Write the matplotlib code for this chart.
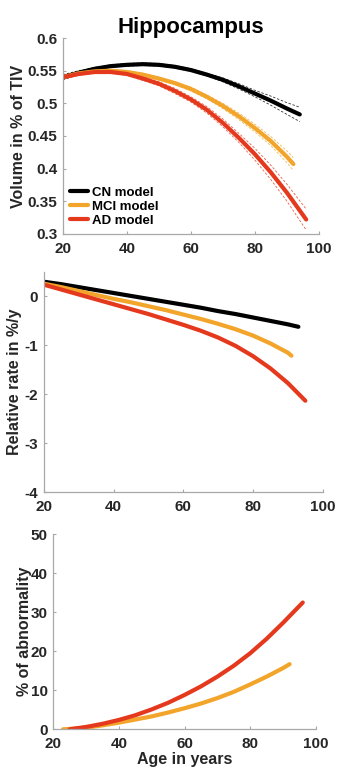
import matplotlib
matplotlib.use("Agg")
import matplotlib.pyplot as plt
import numpy as np

plt.rcParams['font.family'] = ['Liberation Sans', 'DejaVu Sans']
plt.rcParams['font.weight'] = 'bold'

# --- volume models (panel 1) ---
age_cn = [20, 25, 30, 35, 40, 45, 50, 55, 60, 65, 70, 75, 80, 85, 90, 94]
vol_cn = [0.540, 0.547, 0.553, 0.557, 0.559, 0.560, 0.559, 0.556, 0.551, 0.544, 0.536, 0.526, 0.515, 0.504, 0.492, 0.483]
ci_cn = [0.004, 0.003, 0.002, 0.002, 0.002, 0.002, 0.002, 0.002, 0.002, 0.002, 0.003, 0.004, 0.005, 0.007, 0.009, 0.011]

age_mci = [20, 25, 30, 35, 40, 45, 50, 55, 60, 65, 70, 75, 80, 85, 90, 92]
vol_mci = [0.540, 0.546, 0.549, 0.550, 0.548, 0.544, 0.538, 0.531, 0.522, 0.510, 0.496, 0.480, 0.462, 0.442, 0.418, 0.407]
ci_mci = [0.003, 0.002, 0.002, 0.002, 0.002, 0.002, 0.002, 0.002, 0.003, 0.003, 0.004, 0.005, 0.006, 0.007, 0.009, 0.010]

age_ad = [20, 25, 30, 35, 40, 45, 50, 55, 60, 65, 70, 75, 80, 85, 90, 96]
vol_ad = [0.540, 0.545, 0.548, 0.548, 0.545, 0.538, 0.530, 0.519, 0.506, 0.490, 0.470, 0.447, 0.422, 0.394, 0.363, 0.322]
ci_ad = [0.003, 0.002, 0.002, 0.002, 0.002, 0.003, 0.003, 0.004, 0.004, 0.005, 0.006, 0.007, 0.009, 0.011, 0.013, 0.016]

# --- relative rate (panel 2) ---
age_rate_cn = [20, 25, 30, 35, 40, 45, 50, 55, 60, 65, 70, 75, 80, 85, 90, 93]
rate_cn = [0.30, 0.25, 0.19, 0.13, 0.07, 0.01, -0.05, -0.11, -0.17, -0.23, -0.30, -0.36, -0.43, -0.50, -0.57, -0.62]
age_rate_mci = [20, 25, 30, 35, 40, 45, 50, 55, 60, 65, 70, 75, 80, 85, 90, 91]
rate_mci = [0.26, 0.19, 0.11, 0.03, -0.05, -0.12, -0.20, -0.28, -0.37, -0.46, -0.56, -0.67, -0.80, -0.96, -1.15, -1.21]
age_rate_ad = [20, 25, 30, 35, 40, 45, 50, 55, 60, 65, 70, 75, 80, 85, 90, 95]
rate_ad = [0.24, 0.14, 0.04, -0.06, -0.16, -0.26, -0.36, -0.47, -0.58, -0.70, -0.84, -1.01, -1.22, -1.47, -1.77, -2.13]

# --- abnormality (panel 3) ---
age_ab_mci = [23, 25, 30, 35, 40, 45, 50, 55, 60, 65, 70, 75, 80, 85, 90, 92]
ab_mci = [0.0, 0.1, 0.4, 1.0, 1.7, 2.5, 3.3, 4.3, 5.4, 6.6, 8.0, 9.6, 11.5, 13.5, 15.7, 16.7]
age_ab_ad = [25, 30, 35, 40, 45, 50, 55, 60, 65, 70, 75, 80, 85, 90, 96]
ab_ad = [0.0, 0.6, 1.4, 2.4, 3.6, 5.1, 6.8, 8.8, 11.0, 13.5, 16.3, 19.5, 23.2, 27.3, 32.5]

BLACK = '#000000'
ORANGE = '#f2a52a'
RED = '#e4391d'
AXC = '#a8a8a8'
TXT = '#262626'
FS_TICK = 11
FS_LAB = 11.5

fig = plt.figure(figsize=(3.43, 7.77), dpi=100)
ax1 = fig.add_axes([0.183, 0.699, 0.747, 0.252])
ax2 = fig.add_axes([0.128, 0.3664, 0.813, 0.2836])
ax3 = fig.add_axes([0.155, 0.0614, 0.766, 0.251])


def style(ax):
    for s in ['top', 'right']:
        ax.spines[s].set_visible(False)
    for s in ['left', 'bottom']:
        ax.spines[s].set_color(AXC)
        ax.spines[s].set_linewidth(0.9)
    ax.tick_params(direction='in', length=2.5, width=0.8, color=AXC,
                   labelsize=FS_TICK, labelcolor=TXT)
    ax.tick_params(axis='y', pad=4)
    ax.tick_params(axis='x', pad=5.5)
    for lab in ax.get_xticklabels() + ax.get_yticklabels():
        lab.set_fontweight('bold')
    ax.set_xlim(20, 100)
    ax.set_xticks([20, 40, 60, 80, 100])


lw = 3.0
for age, vol, ci, col in [(age_cn, vol_cn, ci_cn, BLACK),
                          (age_mci, vol_mci, ci_mci, ORANGE),
                          (age_ad, vol_ad, ci_ad, RED)]:
    v = np.array(vol)
    c = np.array(ci)
    ax1.plot(age, v + c, color=col, lw=0.6, ls=(0, (3, 2)), alpha=0.8)
    ax1.plot(age, v - c, color=col, lw=0.6, ls=(0, (3, 2)), alpha=0.8)

ax1.plot(age_cn, vol_cn, color=BLACK, lw=lw, label='CN model', solid_capstyle='round')
ax1.plot(age_mci, vol_mci, color=ORANGE, lw=lw, label='MCI model', solid_capstyle='round')
ax1.plot(age_ad, vol_ad, color=RED, lw=lw, label='AD model', solid_capstyle='round')
ax1.set_ylim(0.3, 0.6)
ax1.set_yticks([0.3, 0.35, 0.4, 0.45, 0.5, 0.55, 0.6])
ax1.set_yticklabels(['0.3', '0.35', '0.4', '0.45', '0.5', '0.55', '0.6'])
style(ax1)
ax1.set_ylabel('Volume in % of TIV', fontsize=FS_LAB, fontweight='bold', color=TXT)
ax1.yaxis.set_label_coords(-0.145, 0.5)
ax1.set_title('Hippocampus', fontsize=16, fontweight='bold', color='black', pad=4)
leg = ax1.legend(loc='lower left', frameon=False, fontsize=9.5, handlelength=1.4,
                 handletextpad=0.25, labelspacing=0.12, borderaxespad=0.25,
                 borderpad=0.3, bbox_to_anchor=(0.0, 0.0))
for t in leg.get_texts():
    t.set_fontweight('bold')
    t.set_color('black')

ax2.plot(age_rate_cn, rate_cn, color=BLACK, lw=lw, solid_capstyle='round')
ax2.plot(age_rate_mci, rate_mci, color=ORANGE, lw=lw, solid_capstyle='round')
ax2.plot(age_rate_ad, rate_ad, color=RED, lw=lw, solid_capstyle='round')
ax2.set_ylim(-4, 0.5)
ax2.set_yticks([-4, -3, -2, -1, 0])
ax2.set_yticklabels(['-4', '-3', '-2', '-1', '0'])
style(ax2)
ax2.set_ylabel('Relative rate in %/y', fontsize=FS_LAB, fontweight='bold', color=TXT)
ax2.yaxis.set_label_coords(-0.08, 0.5)

ax3.plot(age_ab_mci, ab_mci, color=ORANGE, lw=lw, solid_capstyle='round')
ax3.plot(age_ab_ad, ab_ad, color=RED, lw=lw, solid_capstyle='round')
ax3.set_ylim(0, 50)
ax3.set_yticks([0, 10, 20, 30, 40, 50])
style(ax3)
ax3.set_ylabel('% of abnormality', fontsize=FS_LAB, fontweight='bold', color=TXT)
ax3.yaxis.set_label_coords(-0.08, 0.5)
ax3.set_xlabel('Age in years', fontsize=FS_LAB, fontweight='bold', color=TXT, labelpad=1)

fig.savefig('out.png', dpi=100)
